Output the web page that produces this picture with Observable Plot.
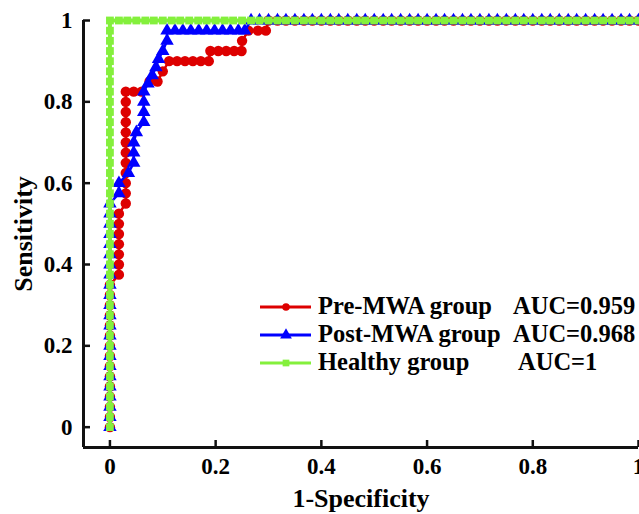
<!DOCTYPE html>
<html><head><meta charset="utf-8">
<script src="https://cdn.jsdelivr.net/npm/d3@7"></script>
<script src="https://cdn.jsdelivr.net/npm/@observablehq/plot@0.6"></script>
<style>
body{margin:0;background:#fff}
#wrap{position:relative;width:639px;height:514px;overflow:hidden}
.lg{position:absolute;font-family:"Liberation Serif",serif;font-weight:bold;font-size:24.5px;color:#000;white-space:nowrap;line-height:28px;height:28px}
</style>
</head><body><div id="wrap"></div>
<script>
// ROC points [1-Specificity, Sensitivity]
const preMWA = [
[0,0],[0,0.025],[0,0.05],[0,0.075],[0,0.1],[0,0.125],[0,0.15],[0,0.175],[0,0.2],[0,0.225],[0,0.25],[0,0.275],[0,0.3],[0,0.325],[0,0.35],
[0.017,0.375],[0.017,0.4],[0.017,0.425],[0.017,0.45],[0.017,0.475],[0.017,0.5],[0.017,0.525],
[0.03,0.55],[0.03,0.575],[0.03,0.6],[0.03,0.625],[0.03,0.65],[0.03,0.675],[0.03,0.7],[0.03,0.725],[0.03,0.75],[0.03,0.775],[0.03,0.8],[0.03,0.825],
[0.045,0.825],[0.06,0.825],
[0.075,0.85],[0.09,0.85],[0.1,0.875],[0.112,0.9],[0.127,0.9],[0.142,0.9],[0.157,0.9],[0.172,0.9],[0.187,0.9],
[0.19,0.925],[0.205,0.925],[0.22,0.925],[0.235,0.925],[0.249,0.925],[0.25,0.95],[0.262,0.975],[0.28,0.975],[0.295,0.975],[0.3,1],
[0.317,1],[0.333,1],[0.35,1],[0.367,1],[0.383,1],[0.4,1],[0.417,1],[0.433,1],[0.45,1],[0.467,1],[0.483,1],[0.5,1],
[0.517,1],[0.533,1],[0.55,1],[0.567,1],[0.583,1],[0.6,1],[0.617,1],[0.633,1],[0.65,1],[0.667,1],[0.683,1],[0.7,1],
[0.717,1],[0.733,1],[0.75,1],[0.767,1],[0.783,1],[0.8,1],[0.817,1],[0.833,1],[0.85,1],[0.867,1],[0.883,1],[0.9,1],
[0.917,1],[0.933,1],[0.95,1],[0.967,1],[0.983,1],[1,1]
];
const postMWA = [
[0,0],[0,0.025],[0,0.05],[0,0.075],[0,0.1],[0,0.125],[0,0.15],[0,0.175],[0,0.2],[0,0.225],[0,0.25],[0,0.275],[0,0.3],[0,0.325],[0,0.35],[0,0.375],[0,0.4],[0,0.425],[0,0.45],[0,0.475],[0,0.5],[0,0.525],[0,0.55],
[0.017,0.575],[0.017,0.6],[0.035,0.625],[0.045,0.65],[0.045,0.675],[0.045,0.7],[0.05,0.725],[0.064,0.75],[0.064,0.775],[0.064,0.8],[0.064,0.825],
[0.072,0.845],[0.08,0.865],[0.087,0.885],[0.092,0.905],[0.1,0.925],[0.108,0.95],[0.108,0.975],
[0.123,0.975],[0.138,0.975],[0.153,0.975],[0.168,0.975],[0.183,0.975],[0.198,0.975],[0.213,0.975],[0.228,0.975],[0.243,0.975],[0.255,0.975],
[0.267,1],[0.283,1],[0.3,1],[0.317,1],[0.333,1],[0.35,1],[0.367,1],[0.383,1],[0.4,1],[0.417,1],[0.433,1],[0.45,1],[0.467,1],[0.483,1],[0.5,1],
[0.517,1],[0.533,1],[0.55,1],[0.567,1],[0.583,1],[0.6,1],[0.617,1],[0.633,1],[0.65,1],[0.667,1],[0.683,1],[0.7,1],
[0.717,1],[0.733,1],[0.75,1],[0.767,1],[0.783,1],[0.8,1],[0.817,1],[0.833,1],[0.85,1],[0.867,1],[0.883,1],[0.9,1],
[0.917,1],[0.933,1],[0.95,1],[0.967,1],[0.983,1],[1,1]
];
const healthy = [
[0,0],[0,0.025],[0,0.05],[0,0.075],[0,0.1],[0,0.125],[0,0.15],[0,0.175],[0,0.2],[0,0.225],[0,0.25],[0,0.275],[0,0.3],[0,0.325],[0,0.35],[0,0.375],[0,0.4],[0,0.425],[0,0.45],[0,0.475],[0,0.5],
[0,0.525],[0,0.55],[0,0.575],[0,0.6],[0,0.625],[0,0.65],[0,0.675],[0,0.7],[0,0.725],[0,0.75],[0,0.775],[0,0.8],[0,0.825],[0,0.85],[0,0.875],[0,0.9],[0,0.925],[0,0.95],[0,0.975],[0,1],
[0.017,1],[0.033,1],[0.05,1],[0.067,1],[0.083,1],[0.1,1],[0.117,1],[0.133,1],[0.15,1],[0.167,1],[0.183,1],[0.2,1],[0.217,1],[0.233,1],[0.25,1],[0.267,1],[0.283,1],[0.3,1],
[0.317,1],[0.333,1],[0.35,1],[0.367,1],[0.383,1],[0.4,1],[0.417,1],[0.433,1],[0.45,1],[0.467,1],[0.483,1],[0.5,1],
[0.517,1],[0.533,1],[0.55,1],[0.567,1],[0.583,1],[0.6,1],[0.617,1],[0.633,1],[0.65,1],[0.667,1],[0.683,1],[0.7,1],
[0.717,1],[0.733,1],[0.75,1],[0.767,1],[0.783,1],[0.8,1],[0.817,1],[0.833,1],[0.85,1],[0.867,1],[0.883,1],[0.9,1],
[0.917,1],[0.933,1],[0.95,1],[0.967,1],[0.983,1],[1,1]
];
const xTicks = [0, 0.2, 0.4, 0.6, 0.8, 1];
const xTickLabels = ["0", "0.2", "0.4", "0.6", "0.8", "1"];
const yTicks = [0, 0.2, 0.4, 0.6, 0.8, 1];
const yTickLabels = ["0", "0.2", "0.4", "0.6", "0.8", "1"];
const seriesNames = ["Pre-MWA group", "Post-MWA group", "Healthy group"];
const seriesAUC = ["AUC=0.959", "AUC=0.968", "AUC=1"];
const seriesColors = ["#dd0000", "#0000ff", "#84f03c"];
const seriesSymbols = ["circle", "triangle", "square"];

const W = 639, H = 514, mL = 83, mR = 1, mT = 20, mB = 67;
const plotW = W - mL - mR, plotH = H - mT - mB;
const X = d => d[0], Y = d => d[1];

const chart = Plot.plot({
  width: W, height: H,
  marginLeft: mL, marginRight: mR, marginTop: mT, marginBottom: mB,
  x: {domain: [-0.05, 1], axis: null},
  y: {domain: [-0.05, 1], axis: null},
  style: {fontFamily: "'Liberation Serif', serif", fontWeight: "bold", fontSize: "23px", color: "#000", background: "#fff"},
  marks: [
    Plot.line(preMWA, {x: X, y: Y, stroke: seriesColors[0], strokeWidth: 2.5}),
    Plot.dot(preMWA, {x: X, y: Y, r: 5.2, fill: seriesColors[0], symbol: seriesSymbols[0]}),
    Plot.line(postMWA, {x: X, y: Y, stroke: seriesColors[1], strokeWidth: 2.5}),
    Plot.dot(postMWA, {x: X, y: Y, r: 5, fill: seriesColors[1], symbol: seriesSymbols[1]}),
    Plot.line(healthy, {x: X, y: Y, stroke: seriesColors[2], strokeWidth: 4}),
    Plot.dot(healthy, {x: X, y: Y, r: 4.4, fill: seriesColors[2], symbol: seriesSymbols[2]}),
    Plot.ruleX([-0.05], {stroke: "#111", strokeWidth: 3}),
    Plot.ruleY([-0.05], {stroke: "#111", strokeWidth: 3}),
    Plot.tickX(xTicks, {x: d => d, insetTop: plotH - 7, stroke: "#111", strokeWidth: 2.5}),
    Plot.tickY(yTicks, {y: d => d, insetRight: plotW - 7, stroke: "#111", strokeWidth: 2.5}),
    Plot.axisX(xTicks, {anchor: "bottom", tickSize: 0, tickPadding: 10, label: null, fontSize: 23,
      tickFormat: d => xTickLabels[xTicks.indexOf(d)]}),
    Plot.axisY(yTicks, {anchor: "left", tickSize: 0, tickPadding: 11, label: null, fontSize: 23,
      tickFormat: d => yTickLabels[yTicks.indexOf(d)]}),
    Plot.text(["1-Specificity"], {frameAnchor: "bottom", dy: 59, fontSize: 26, fill: "#000"}),
    Plot.text(["Sensitivity"], {frameAnchor: "left", textAnchor: "middle", dx: -60, rotate: -90, fontSize: 26, fill: "#000"})
  ]
});
const wrap = document.getElementById("wrap");
wrap.appendChild(chart);

// legend
const rowY = [307, 335, 363];
seriesNames.forEach((name, i) => {
  const c = seriesColors[i];
  const sym = d3.symbol(seriesSymbols[i] === "circle" ? d3.symbolCircle : seriesSymbols[i] === "triangle" ? d3.symbolTriangle : d3.symbolSquare,
    seriesSymbols[i] === "circle" ? 45 : seriesSymbols[i] === "triangle" ? 60 : 45)();
  const key = document.createElementNS("http://www.w3.org/2000/svg", "svg");
  key.setAttribute("width", 54); key.setAttribute("height", 20);
  key.style.position = "absolute"; key.style.left = "259px"; key.style.top = (rowY[i] - 10) + "px";
  key.innerHTML = `<line x1="1" x2="52" y1="10" y2="10" stroke="${c}" stroke-width="3"/><path transform="translate(27,10)" d="${sym}" fill="${c}"/>`;
  wrap.appendChild(key);
  const t = document.createElement("div");
  t.className = "lg"; t.textContent = name;
  t.style.left = "318px"; t.style.top = (rowY[i] - 15) + "px";
  wrap.appendChild(t);
  const a = document.createElement("div");
  a.className = "lg"; a.textContent = seriesAUC[i];
  a.style.left = (i === 2 ? 518 : 513) + "px"; a.style.top = (rowY[i] - 15) + "px";
  wrap.appendChild(a);
});
</script>
</body></html>
